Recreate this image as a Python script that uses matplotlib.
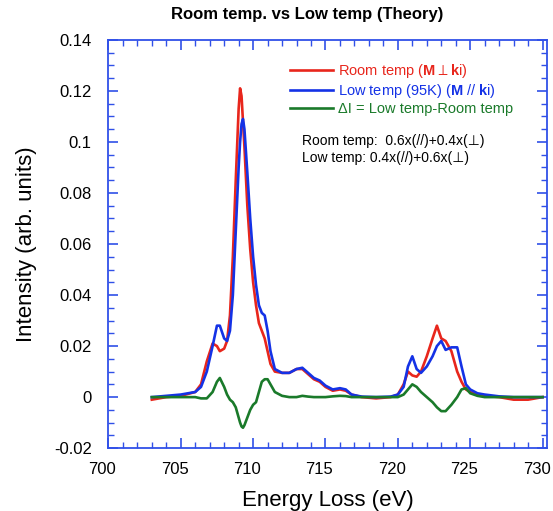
import matplotlib
matplotlib.use("Agg")
import matplotlib.pyplot as plt
from matplotlib.ticker import MultipleLocator
from matplotlib.transforms import ScaledTranslation

plt.rcParams['font.family'] = ['Liberation Sans', 'DejaVu Sans']
plt.rcParams['mathtext.fontset'] = 'custom'
plt.rcParams['mathtext.rm'] = 'Liberation Sans'
plt.rcParams['mathtext.bf'] = 'Liberation Sans:bold'
plt.rcParams['mathtext.fallback'] = 'stixsans'

# Energy loss (eV)
energy = [703.0, 704.0, 705.0, 706.0, 706.4, 706.8, 707.2, 707.5, 707.7, 708.0,
          708.2, 708.4, 708.6, 708.8, 709.0, 709.1, 709.2, 709.3, 709.4, 709.6,
          709.8, 710.0, 710.2, 710.4, 710.6, 710.8, 711.0, 711.2, 711.5, 712.0,
          712.5, 713.0, 713.4, 713.8, 714.2, 714.6, 715.0, 715.5, 716.0, 716.4,
          716.8, 717.5, 718.5, 719.5, 720.0, 720.4, 720.7, 721.0, 721.3, 721.6,
          722.0, 722.4, 722.7, 723.0, 723.3, 723.7, 724.1, 724.4, 724.7, 725.0,
          725.5, 726.0, 727.0, 728.0, 729.0, 730.0]

# Room temp (M ⊥ ki)
room = [-0.001, 0.0, 0.0005, 0.002, 0.005, 0.014, 0.021, 0.020, 0.018, 0.019,
        0.022, 0.032, 0.055, 0.085, 0.113, 0.121, 0.118, 0.108, 0.098, 0.075,
        0.058, 0.045, 0.036, 0.029, 0.026, 0.023, 0.018, 0.013, 0.010, 0.0095,
        0.0095, 0.011, 0.011, 0.009, 0.007, 0.006, 0.004, 0.0025, 0.003, 0.0025,
        0.001, 0.0, -0.0005, 0.0, 0.001, 0.005, 0.010, 0.0085, 0.008, 0.010,
        0.016, 0.023, 0.028, 0.023, 0.022, 0.018, 0.010, 0.006, 0.003, 0.002,
        0.001, 0.0005, 0.0, -0.001, -0.001, 0.0]

# Low temp (95K) (M // ki)
low = [0.0, 0.0005, 0.001, 0.002, 0.004, 0.010, 0.020, 0.028, 0.028, 0.023,
       0.022, 0.026, 0.040, 0.065, 0.090, 0.100, 0.107, 0.109, 0.105, 0.088,
       0.070, 0.055, 0.044, 0.036, 0.033, 0.032, 0.026, 0.018, 0.011, 0.0095,
       0.0095, 0.011, 0.0115, 0.0095, 0.0075, 0.0065, 0.0045, 0.003, 0.0035, 0.003,
       0.001, 0.0002, 0.0, 0.0002, 0.001, 0.004, 0.012, 0.016, 0.011, 0.0095,
       0.012, 0.016, 0.020, 0.022, 0.0185, 0.0195, 0.0195, 0.012, 0.005, 0.003,
       0.0015, 0.001, 0.0003, 0.0, 0.0, 0.0]

# ΔI = Low temp - Room temp
delta = [0.0, 0.0, 0.0, 0.0, -0.0005, -0.0005, 0.002, 0.006, 0.0075, 0.004,
         0.001, -0.001, -0.002, -0.004, -0.008, -0.010, -0.0115, -0.012, -0.011, -0.008,
         -0.005, -0.003, -0.002, 0.002, 0.006, 0.007, 0.007, 0.005, 0.002, 0.0005,
         0.0, 0.0, 0.0005, 0.0002, 0.0, 0.0, 0.0, 0.0003, 0.0005, 0.0004,
         0.0, 0.0, 0.0, 0.0, 0.0, 0.001, 0.003, 0.005, 0.004, 0.002,
         0.0, -0.002, -0.004, -0.0055, -0.0055, -0.003, 0.0, 0.003, 0.0035, 0.0015,
         0.0005, 0.0, 0.0, 0.0, 0.0, 0.0]

yticks = [-0.02, 0, 0.02, 0.04, 0.06, 0.08, 0.1, 0.12, 0.14]
ytick_labels = ['-0.02', '0', '0.02', '0.04', '0.06', '0.08', '0.1', '0.12', '0.14']

red = '#e8261c'
blue = '#1432e6'
green = '#1a7a2a'
axis_blue = '#3050e8'

fig = plt.figure(figsize=(5.53, 5.11), dpi=100)
ax = fig.add_axes([0.196, 0.123, 0.793, 0.799])

ax.plot(energy, room, color=red, lw=1.9, label=r'Room temp ($\mathbf{M}\perp\mathbf{k}$i)')
ax.plot(energy, low, color=blue, lw=1.9, label=r'Low temp (95K) ($\mathbf{M}$ // $\mathbf{k}$i)')
ax.plot(energy, delta, color=green, lw=1.9, label='ΔI = Low temp-Room temp')

ax.set_xlim(700, 730.3)
ax.set_ylim(-0.02, 0.14)
ax.xaxis.set_major_locator(MultipleLocator(5))
ax.xaxis.set_minor_locator(MultipleLocator(1))
ax.yaxis.set_minor_locator(MultipleLocator(0.005))
ax.set_yticks(yticks)
ax.set_yticklabels(ytick_labels)

for s in ax.spines.values():
    s.set_color(axis_blue)
    s.set_linewidth(1.3)
ax.tick_params(which='both', direction='in', top=True, right=True, color=axis_blue,
               labelsize=12, labelcolor='black')
ax.tick_params(which='major', length=7, width=1.2)
ax.tick_params(which='minor', length=4, width=1.0)
ax.tick_params(axis='x', which='major', pad=10)
ax.tick_params(axis='y', which='major', pad=12)

# tick labels sit a little left of their ticks in the original
shift = ScaledTranslation(-6 / 100, 0, fig.dpi_scale_trans)
for lab in ax.get_xticklabels():
    lab.set_transform(lab.get_transform() + shift)

ax.set_xlabel('Energy Loss (eV)', fontsize=16, labelpad=9)
ax.set_ylabel('Intensity (arb. units)', fontsize=16, labelpad=12)

leg = ax.legend(loc='upper left', bbox_to_anchor=(0.413, 0.945), frameon=False,
                fontsize=10.5, handlelength=3.0, handletextpad=0.35, labelspacing=0.12,
                borderpad=0, borderaxespad=0, labelcolor='linecolor')

ax.text(0.442, 0.752, 'Room temp:  0.6x(//)+0.4x(⊥)', transform=ax.transAxes,
        fontsize=10, va='center')
ax.text(0.442, 0.710, 'Low temp: 0.4x(//)+0.6x(⊥)', transform=ax.transAxes,
        fontsize=10, va='center')

fig.text(0.555, 0.971, 'Room temp. vs Low temp (Theory)', ha='center', va='center',
         fontsize=12, fontweight='bold')

fig.savefig('out.png', dpi=100)
